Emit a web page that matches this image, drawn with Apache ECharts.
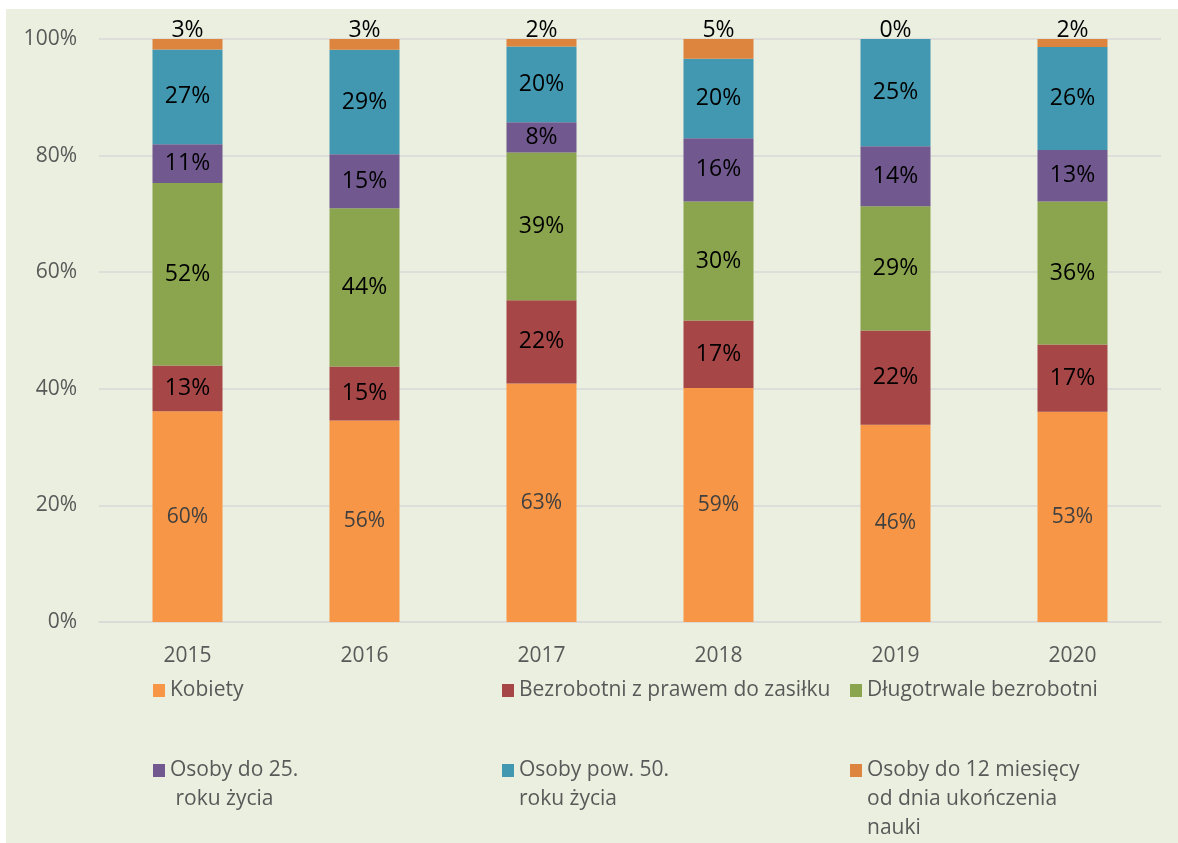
<!DOCTYPE html>
<html>
<head>
<meta charset="utf-8">
<script src="https://cdn.jsdelivr.net/npm/echarts@6/dist/echarts.min.js"></script>
<style>
  html, body { margin: 0; padding: 0; background: #ffffff; }
  #chart {
    position: absolute;
    left: 6px;
    top: 9px;
    width: 1172px;
    height: 834px;
    background: #ebefdf;
  }
</style>
</head>
<body>
<div id="chart"></div>
<script>
// lata na osi X
const years = ['2015', '2016', '2017', '2018', '2019', '2020']
const yTicks = [0, 20, 40, 60, 80, 100]

// wartości z etykiet (w %)
const kobiety = [60, 56, 63, 59, 46, 53]
const zasilek = [13, 15, 22, 17, 22, 17]
const dlugotrwale = [52, 44, 39, 30, 29, 36]
const do25 = [11, 15, 8, 16, 14, 13]
const pow50 = [27, 29, 20, 20, 25, 26]
const do12mies = [3, 3, 2, 5, 0, 2]

const names = [
  'Kobiety',
  'Bezrobotni z prawem do zasiłku',
  'Długotrwale bezrobotni',
  'Osoby do 25. roku życia',
  'Osoby pow. 50. roku życia',
  'Osoby do 12 miesięcy od dnia ukończenia nauki',
]
const rows = [kobiety, zasilek, dlugotrwale, do25, pow50, do12mies]
const colors = ['#f79646', '#a64646', '#8aa54e', '#71588f', '#4298b0', '#dd843f']

// wykres 100% skumulowany - każda kolumna sumuje się do 100
const sums = years.map((_, i) => rows.reduce((s, r) => s + r[i], 0))

const font = 'Open Sans'
const grey = '#595959'

const series = rows.map((r, k) => ({
  name: names[k],
  type: 'bar',
  stack: 'all',
  barWidth: 70,
  data: r.map((v, i) => (v / sums[i]) * 100),
  itemStyle: { color: colors[k] },
  label: {
    show: true,
    position: k === 5 ? 'top' : 'inside',
    distance: k === 5 ? -3 : 5,
    fontFamily: font,
    fontSize: k === 0 ? 21 : 23,
    color: k === 0 ? '#404040' : '#000000',
    formatter: (p) => rows[k][p.dataIndex] + '%',
  },
}))

// legenda: 3 kolumny, 2 rzędy; puste linie na początku, żeby ikona stała przy pierwszej linii
const legendText = {
  'Kobiety': 'Kobiety',
  'Bezrobotni z prawem do zasiłku': 'Bezrobotni z prawem do zasiłku',
  'Długotrwale bezrobotni': 'Długotrwale bezrobotni',
  'Osoby do 25. roku życia': '\nOsoby do 25.\n roku życia',
  'Osoby pow. 50. roku życia': '\nOsoby pow. 50.\nroku życia',
  'Osoby do 12 miesięcy od dnia ukończenia nauki': '\n\nOsoby do 12 miesięcy\nod dnia ukończenia\nnauki',
}
const LH = 29
const legendPos = [
  { left: 147, top: 667 },
  { left: 496, top: 667 },
  { left: 844, top: 667 },
  { left: 147, top: 718 },
  { left: 496, top: 718 },
  { left: 844, top: 689 },
]
const legends = names.map((n, k) => ({
  data: [n],
  left: legendPos[k].left,
  top: legendPos[k].top,
  padding: 0,
  itemWidth: 12,
  itemHeight: 13,
  icon: 'rect',
  selectedMode: false,
  formatter: (name) => legendText[name],
  textStyle: {
    fontFamily: font,
    fontSize: 21,
    color: grey,
    lineHeight: LH,
  },
}))

const chart = echarts.init(document.getElementById('chart'))
chart.setOption({
  animation: false,
  color: colors,
  legend: legends,
  grid: { left: 93, right: 17, top: 30, bottom: 221 },
  xAxis: {
    type: 'category',
    data: years,
    axisLine: { lineStyle: { color: '#d9d9d9', width: 1.5 } },
    axisTick: { show: false },
    axisLabel: { color: grey, fontFamily: font, fontSize: 21, margin: 24 },
  },
  yAxis: {
    type: 'value',
    min: yTicks[0],
    max: yTicks[yTicks.length - 1],
    interval: yTicks[1] - yTicks[0],
    axisLine: { show: false },
    axisTick: { show: false },
    splitLine: { lineStyle: { color: '#d9d9d9', width: 1.5 } },
    axisLabel: { color: grey, fontFamily: font, fontSize: 21, margin: 22, formatter: '{value}%' },
  },
  series: series,
})
</script>
</body>
</html>
